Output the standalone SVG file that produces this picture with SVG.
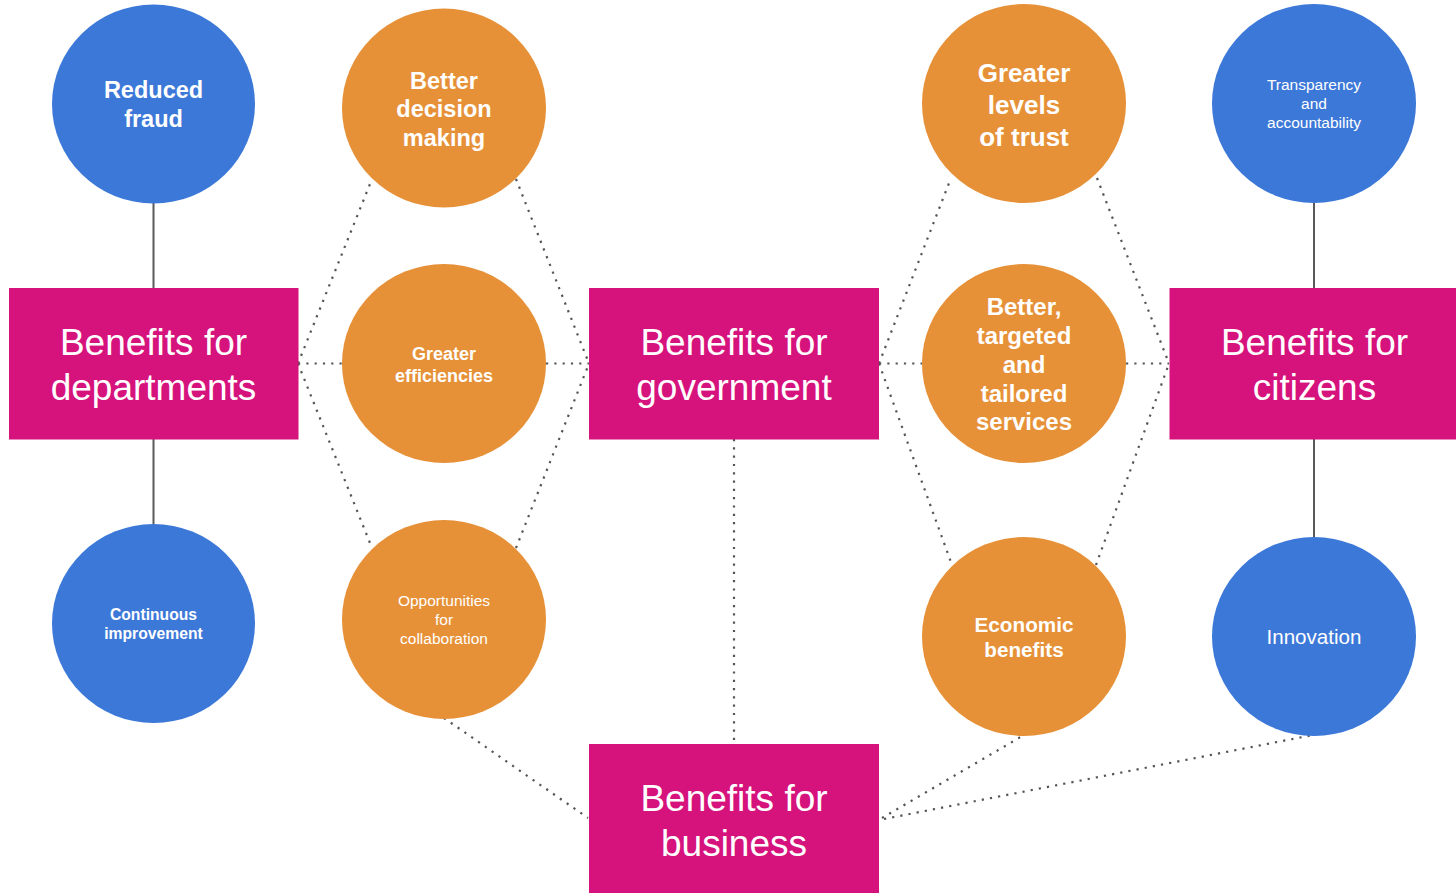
<svg xmlns="http://www.w3.org/2000/svg" width="1456" height="893" viewBox="0 0 1456 893">
<style>
.blue{fill:#3C78D8}
.orange{fill:#E69138}
.box{fill:#D6127D}
.t{fill:#FFFFFF;font-family:"Liberation Sans",Arial,sans-serif;text-anchor:middle}
.b{font-weight:bold}
.solid{stroke:#595959;stroke-width:2;fill:none}
.dot{stroke:#555555;stroke-width:2.2;fill:none;stroke-dasharray:2.2 6.1}
</style>
<rect width="1456" height="893" fill="#FFFFFF"/>
<g id="connectors">
<line class="solid" x1="153.5" y1="203" x2="153.5" y2="288"/>
<line class="solid" x1="153.5" y1="439" x2="153.5" y2="524"/>
<line class="solid" x1="1314" y1="203" x2="1314" y2="288"/>
<line class="solid" x1="1314" y1="439" x2="1314" y2="537"/>
<line class="dot" x1="298" y1="363.5" x2="342" y2="363.5"/>
<line class="dot" x1="298" y1="363.5" x2="372" y2="179"/>
<line class="dot" x1="298" y1="363.5" x2="372" y2="548"/>
<line class="dot" x1="546" y1="363.5" x2="589" y2="363.5"/>
<line class="dot" x1="516" y1="179" x2="589" y2="363.5"/>
<line class="dot" x1="516" y1="548" x2="589" y2="363.5"/>
<line class="dot" x1="879" y1="363.5" x2="922" y2="363.5"/>
<line class="dot" x1="879" y1="363.5" x2="951" y2="178"/>
<line class="dot" x1="879" y1="363.5" x2="952" y2="565"/>
<line class="dot" x1="1126" y1="363.5" x2="1169" y2="363.5"/>
<line class="dot" x1="1097" y1="178" x2="1169" y2="363.5"/>
<line class="dot" x1="1096" y1="565" x2="1169" y2="363.5"/>
<line class="dot" x1="734" y1="439" x2="734" y2="744"/>
<line class="dot" x1="444" y1="718" x2="588" y2="818"/>
<line class="dot" x1="882" y1="818" x2="1024" y2="735"/>
<line class="dot" x1="884" y1="819" x2="1313" y2="735"/>
</g>
<g id="reduced-fraud">
<ellipse class="blue" cx="153.5" cy="104" rx="101.5" ry="99.5"/>
<text class="t b" font-size="23.5" x="153.5" y="98">Reduced</text>
<text class="t b" font-size="23.5" x="153.5" y="127">fraud</text>
</g>
<g id="continuous-improvement">
<ellipse class="blue" cx="153.5" cy="623.5" rx="101.5" ry="99.5"/>
<text class="t b" font-size="15.7" x="153.5" y="620">Continuous</text>
<text class="t b" font-size="15.7" x="153.5" y="639">improvement</text>
</g>
<g id="better-decision-making">
<ellipse class="orange" cx="444" cy="108" rx="102" ry="99.5"/>
<text class="t b" font-size="23.5" x="444" y="88.5">Better</text>
<text class="t b" font-size="23.5" x="444" y="117">decision</text>
<text class="t b" font-size="23.5" x="444" y="145.5">making</text>
</g>
<g id="greater-efficiencies">
<ellipse class="orange" cx="444" cy="363.5" rx="102" ry="99.5"/>
<text class="t b" font-size="18" x="444" y="360">Greater</text>
<text class="t b" font-size="18" x="444" y="382">efficiencies</text>
</g>
<g id="opportunities-for-collaboration">
<ellipse class="orange" cx="444" cy="619.5" rx="102" ry="99.5"/>
<text class="t" font-size="15.5" x="444" y="605.5">Opportunities</text>
<text class="t" font-size="15.5" x="444" y="624.5">for</text>
<text class="t" font-size="15.5" x="444" y="643.5">collaboration</text>
</g>
<g id="greater-levels-of-trust">
<ellipse class="orange" cx="1024" cy="103.5" rx="102" ry="99.5"/>
<text class="t b" font-size="26" x="1024" y="82">Greater</text>
<text class="t b" font-size="26" x="1024" y="114">levels</text>
<text class="t b" font-size="26" x="1024" y="146">of trust</text>
</g>
<g id="better-targeted-tailored-services">
<ellipse class="orange" cx="1024" cy="363.5" rx="102" ry="99.5"/>
<text class="t b" font-size="24" x="1024" y="314.5">Better,</text>
<text class="t b" font-size="24" x="1024" y="343.5">targeted</text>
<text class="t b" font-size="24" x="1024" y="372.5">and</text>
<text class="t b" font-size="24" x="1024" y="401.5">tailored</text>
<text class="t b" font-size="24" x="1024" y="430">services</text>
</g>
<g id="economic-benefits">
<ellipse class="orange" cx="1024" cy="636.5" rx="102" ry="99.5"/>
<text class="t b" font-size="20.7" x="1024" y="631.5">Economic</text>
<text class="t b" font-size="20.7" x="1024" y="656.5">benefits</text>
</g>
<g id="transparency-accountability">
<ellipse class="blue" cx="1314" cy="103.5" rx="102" ry="99.5"/>
<text class="t" font-size="15.5" x="1314" y="89.5">Transparency</text>
<text class="t" font-size="15.5" x="1314" y="108.5">and</text>
<text class="t" font-size="15.5" x="1314" y="127.5">accountability</text>
</g>
<g id="innovation">
<ellipse class="blue" cx="1314" cy="636.5" rx="102" ry="99.5"/>
<text class="t" font-size="20.6" x="1314" y="644">Innovation</text>
</g>
<g id="benefits-departments">
<rect class="box" x="9" y="288" width="289.5" height="151.5"/>
<text class="t" font-size="37" x="153.5" y="355">Benefits for</text>
<text class="t" font-size="37" x="153.5" y="400">departments</text>
</g>
<g id="benefits-government">
<rect class="box" x="589" y="288" width="290" height="151.5"/>
<text class="t" font-size="37" x="734" y="355">Benefits for</text>
<text class="t" font-size="37" x="734" y="400">government</text>
</g>
<g id="benefits-citizens">
<rect class="box" x="1169.5" y="288" width="290" height="151.5"/>
<text class="t" font-size="37" x="1314.5" y="355">Benefits for</text>
<text class="t" font-size="37" x="1314.5" y="400">citizens</text>
</g>
<g id="benefits-business">
<rect class="box" x="589" y="744" width="290" height="151"/>
<text class="t" font-size="37" x="734" y="810.5">Benefits for</text>
<text class="t" font-size="37" x="734" y="855.5">business</text>
</g>
</svg>
